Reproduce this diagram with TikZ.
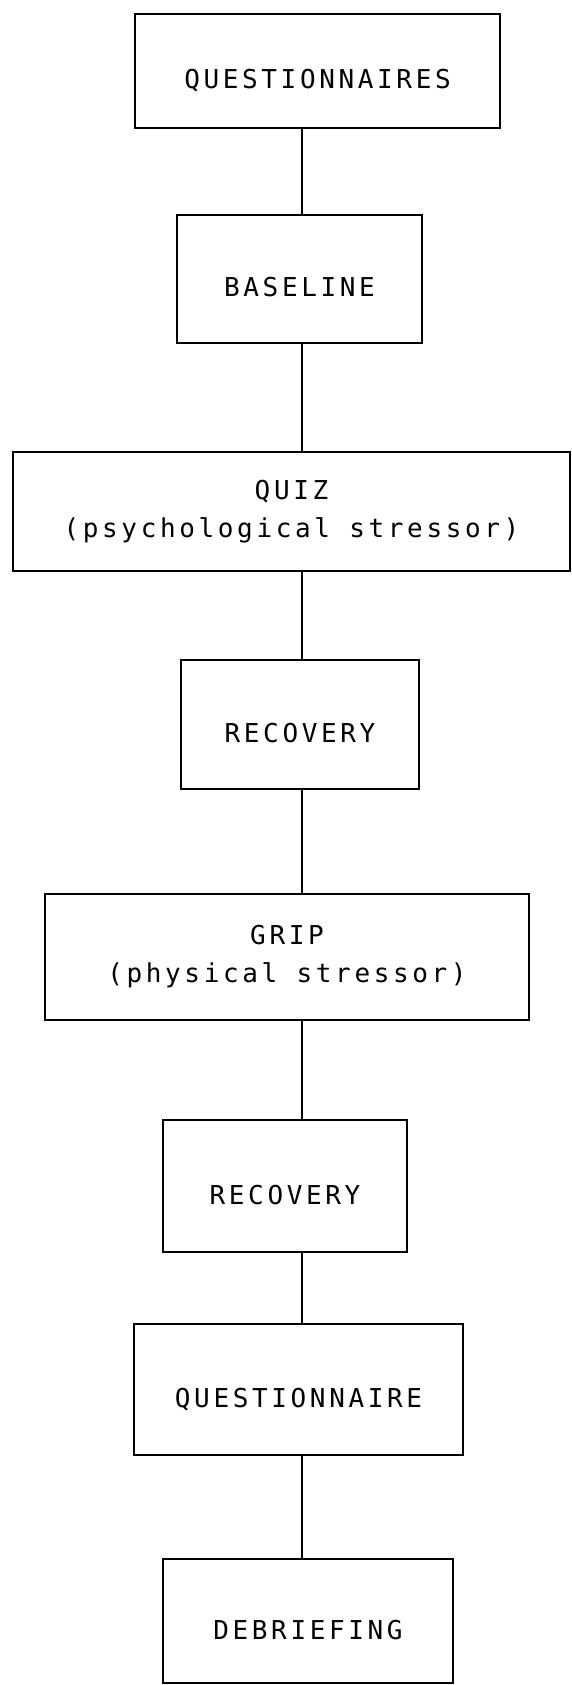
\documentclass[tikz,border=0pt]{standalone}
\usepackage{fontspec}
\newfontfamily\dotmatrix{DejaVu Sans Mono}[LetterSpace=14]
\usepackage{tikz}
\usetikzlibrary{positioning,calc}

\begin{document}
\begin{tikzpicture}[
  x=1pt, y=-1pt,
  stage/.style={draw, line width=2.5pt, rectangle, inner sep=0pt, align=center,
    font=\dotmatrix\fontsize{26}{38}\selectfont},
  oneline/.style={text height=36pt, text depth=0pt},
  link/.style={line width=2.5pt}
]
  \useasboundingbox (0,0) rectangle (571,1685);

  % Common vertical line
  \coordinate (spine) at (302,0);

  % Opening
  \node[stage, oneline, minimum width=365pt, minimum height=114pt] (quest) at (317.5, 71) {QUESTIONNAIRES};
  \node[stage, oneline, minimum width=245pt, minimum height=128pt] (base) at (299.5, 279) {BASELINE};

  % Stressors and recoveries
  \node[stage, minimum width=557pt, minimum height=119pt] (quiz) at (291.5, 511.5) {QUIZ\\(psychological stressor)};
  \node[stage, oneline, minimum width=238pt, minimum height=129pt] (rec1) at (300, 724.5) {RECOVERY};
  \node[stage, minimum width=484pt, minimum height=126pt] (grip) at (287, 957) {GRIP\\(physical stressor)};
  \node[stage, oneline, minimum width=244pt, minimum height=132pt] (rec2) at (285, 1186) {RECOVERY};

  % Closing
  \node[stage, oneline, minimum width=329pt, minimum height=131pt] (quest2) at (298.5, 1389.5) {QUESTIONNAIRE};
  \node[stage, oneline, minimum width=290pt, minimum height=124pt] (debrief) at (308, 1621) {DEBRIEFING};

  % Links
  \draw[link] (quest.south -| spine) -- (base.north -| spine);
  \draw[link] (base.south -| spine) -- (quiz.north -| spine);
  \draw[link] (quiz.south -| spine) -- (rec1.north -| spine);
  \draw[link] (rec1.south -| spine) -- (grip.north -| spine);
  \draw[link] (grip.south -| spine) -- (rec2.north -| spine);
  \draw[link] (rec2.south -| spine) -- (quest2.north -| spine);
  \draw[link] (quest2.south -| spine) -- (debrief.north -| spine);
\end{tikzpicture}
\end{document}
